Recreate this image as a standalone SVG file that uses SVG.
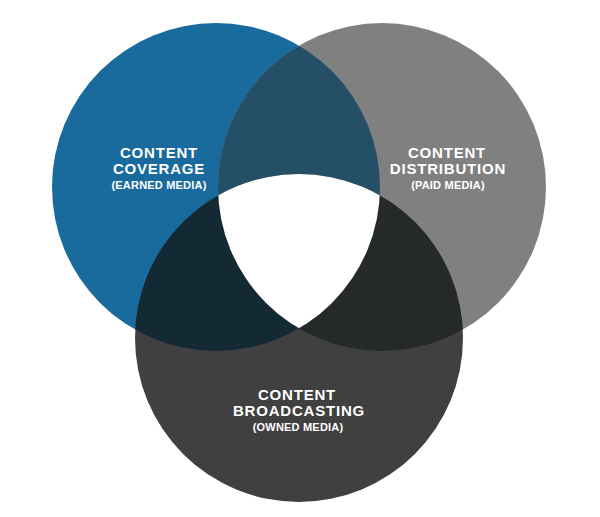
<svg xmlns="http://www.w3.org/2000/svg" width="600" height="517" viewBox="0 0 600 517">
<style>
.t{font-family:"Liberation Sans",Arial,sans-serif;font-weight:bold;fill:#fff;text-anchor:middle}
.h{font-size:15px;letter-spacing:0.8px}
.s{font-size:11px;letter-spacing:0.2px}
</style>
<defs>
<clipPath id="cB"><circle cx="216" cy="187" r="164"/></clipPath>
<clipPath id="cG"><circle cx="382" cy="187" r="164"/></clipPath>
<clipPath id="cD"><circle cx="299" cy="338" r="164"/></clipPath>
</defs>
<rect width="600" height="517" fill="#fff"/>
<g id="earned">
<circle cx="216" cy="187" r="164" fill="#196b9e"/>
</g>
<g id="paid">
<circle cx="382" cy="187" r="164" fill="#808080"/>
</g>
<g id="owned">
<circle cx="299" cy="338" r="164" fill="#404040"/>
</g>
<g id="overlaps">
<g clip-path="url(#cB)"><circle cx="382" cy="187" r="164" fill="#254f66"/></g>
<g clip-path="url(#cB)"><circle cx="299" cy="338" r="164" fill="#132934"/></g>
<g clip-path="url(#cG)"><circle cx="299" cy="338" r="164" fill="#252a28"/></g>
<g clip-path="url(#cB)"><g clip-path="url(#cG)"><circle cx="299" cy="338" r="164" fill="#fff"/></g></g>
</g>
<g id="labels">
<text class="t h" x="159" y="158">CONTENT</text>
<text class="t h" x="159" y="174">COVERAGE</text>
<text class="t s" x="159" y="189">(EARNED MEDIA)</text>
<text class="t h" x="447" y="158">CONTENT</text>
<text class="t h" x="448" y="174">DISTRIBUTION</text>
<text class="t s" x="448" y="189">(PAID MEDIA)</text>
<text class="t h" x="297" y="400">CONTENT</text>
<text class="t h" x="299" y="416">BROADCASTING</text>
<text class="t s" x="298" y="431">(OWNED MEDIA)</text>
</g>
</svg>
